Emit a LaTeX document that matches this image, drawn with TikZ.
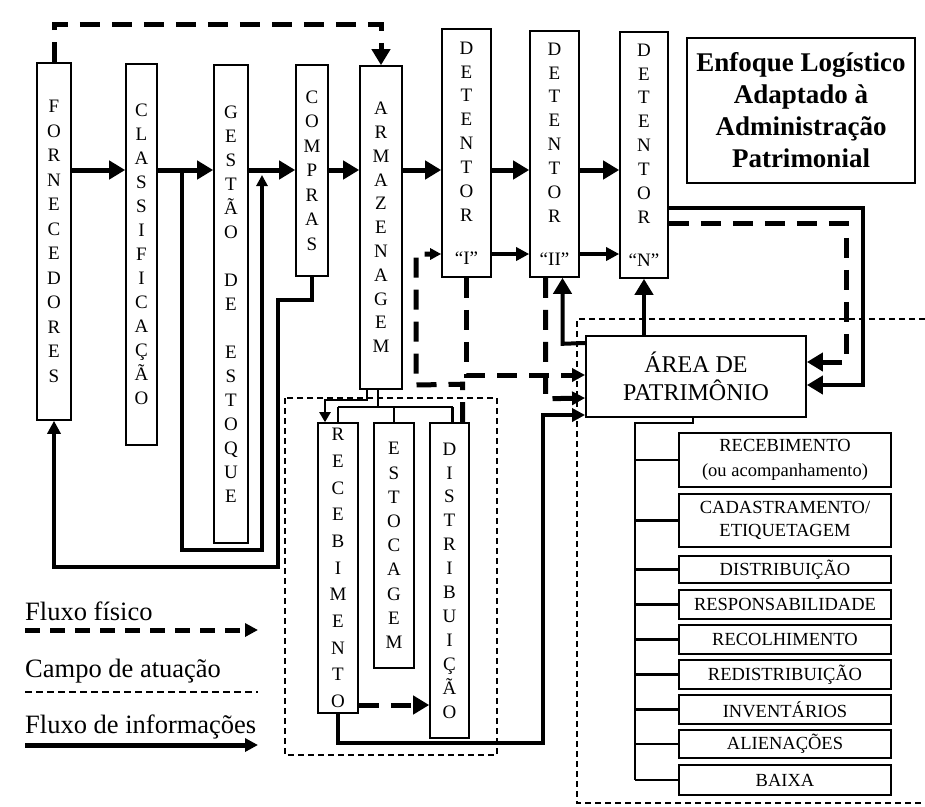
\documentclass[tikz,border=0pt]{standalone}
\usepackage{fontspec}
\setmainfont{Liberation Serif}
\usetikzlibrary{arrows.meta,calc}
\begin{document}
\begin{tikzpicture}[x=1pt,y=-1pt,
  vbox/.style={draw, line width=1.6pt, inner sep=0pt, align=center},
  vfont/.style={font=\fontsize{19}{#1}\selectfont},
  lbox/.style={draw, line width=1.8pt, inner sep=0pt, minimum width=212pt, align=center, font=\fontsize{18.5}{24}\selectfont},
  info/.style={line width=5pt},
  infoM/.style={line width=4pt},
  thinl/.style={line width=2.2pt},
  phys/.style={line width=5pt, dash pattern=on 20pt off 12pt},
  campo/.style={line width=2pt, dash pattern=on 6pt off 4pt},
  bigtip/.style={-{Triangle[length=16pt,width=18pt]}},
  medtip/.style={-{Triangle[length=13pt,width=13pt]}},
  smalltip/.style={-{Triangle[length=11pt,width=11pt]}},
  legtext/.style={anchor=base west, inner sep=0pt, font=\fontsize{26.5}{30}\selectfont},
]
\fill[white] (0,0) rectangle (925,806);
\useasboundingbox (0,0) rectangle (925,806);

% main column boxes
\node[vbox, vfont=24.5, minimum width=34pt, minimum height=357pt] (forn) at (54,241.5) {F\\O\\R\\N\\E\\C\\E\\D\\O\\R\\E\\S};
\node[vbox, vfont=24, minimum width=31pt, minimum height=381pt] (clas) at (141.5,254.5) {C\\L\\A\\S\\S\\I\\F\\I\\C\\A\\Ç\\Ã\\O};
\node[vbox, vfont=24, minimum width=34pt, minimum height=478pt] (gest) at (231,304) {G\\E\\S\\T\\Ã\\O\\[24pt]D\\E\\[24pt]E\\S\\T\\O\\Q\\U\\E};
\node[vbox, vfont=24.5, minimum width=32pt, minimum height=211pt] (comp) at (312,170.5) {C\\O\\M\\P\\R\\A\\S};
\node[vbox, vfont=23.8, minimum width=42pt, minimum height=323pt] (arm) at (381,227.5) {A\\R\\M\\A\\Z\\E\\N\\A\\G\\E\\M};
\node[vbox, vfont=23.9, minimum width=49pt, minimum height=248pt] (detI) at (466.5,153) {D\\E\\T\\E\\N\\T\\O\\R\\[19pt]“I”};
\node[vbox, vfont=23.9, minimum width=49pt, minimum height=246pt] (detII) at (554.5,154) {D\\E\\T\\E\\N\\T\\O\\R\\[19pt]“II”};
\node[vbox, vfont=23.9, minimum width=48pt, minimum height=246pt] (detN) at (644,155) {D\\E\\T\\E\\N\\T\\O\\R\\[19pt]“N”};

% title
\node[draw, line width=1.8pt, minimum width=228pt, minimum height=145pt, align=center, inner sep=0pt,
      font=\fontsize{27}{32}\selectfont\bfseries] (title) at (801,110.5) {Enfoque Logístico\\Adaptado à\\Administração\\Patrimonial};

% area de patrimonio
\node[draw, line width=1.8pt, minimum width=220pt, minimum height=81pt, align=center, inner sep=0pt,
      font=\fontsize{24}{28}\selectfont] (area) at (696,376.5) {ÁREA DE\\PATRIMÔNIO};

% storage sub-boxes
\node[vbox, vfont=26.7, minimum width=40pt, minimum height=290pt] (rec) at (338,568) {R\\E\\C\\E\\B\\I\\M\\E\\N\\T\\O};
\node[vbox, vfont=24.2, minimum width=40pt, minimum height=245pt] (est) at (394,545.5) {E\\S\\T\\O\\C\\A\\G\\E\\M};
\node[vbox, vfont=23.9, minimum width=39pt, minimum height=315pt] (dist) at (449.5,580.5) {D\\I\\S\\T\\R\\I\\B\\U\\I\\Ç\\Ã\\O};

% list of patrimonial activities
\node[lbox, minimum height=54pt, font=\fontsize{18.5}{25}\selectfont] (l1) at (785,460) {RECEBIMENTO\\(ou acompanhamento)};
\node[lbox, minimum height=53pt, font=\fontsize{18.5}{23}\selectfont] (l2) at (785,520.5) {CADASTRAMENTO/\\ETIQUETAGEM};
\node[lbox, minimum height=27pt] (l3) at (785,569.5) {DISTRIBUIÇÃO};
\node[lbox, minimum height=29pt] (l4) at (785,604.5) {RESPONSABILIDADE};
\node[lbox, minimum height=29pt] (l5) at (785,639.5) {RECOLHIMENTO};
\node[lbox, minimum height=29pt] (l6) at (785,674.5) {REDISTRIBUIÇÃO};
\node[lbox, minimum height=29pt] (l7) at (785,709.5) {INVENTÁRIOS};
\node[lbox, minimum height=28pt] (l8) at (785,744) {ALIENAÇÕES};
\node[lbox, minimum height=30pt] (l9) at (785,780) {BAIXA};

% helper coordinates
\coordinate (ytop) at (0,24);
\coordinate (r1) at (0,170);
\coordinate (r2) at (0,254);
\coordinate (y208) at (0,208);
\coordinate (y223) at (0,223);
\coordinate (y300) at (0,300);
\coordinate (y343) at (0,343);
\coordinate (y362) at (0,362);
\coordinate (y375) at (0,375);
\coordinate (y385) at (0,385);
\coordinate (y398) at (0,398);
\coordinate (y407) at (0,407);
\coordinate (y415) at (0,415);
\coordinate (y423) at (0,423);
\coordinate (y567) at (0,567);
\coordinate (y705) at (0,705);
\coordinate (y743) at (0,743);
\coordinate (cx1) at (863,0);
\coordinate (cx2) at (846,0);
\coordinate (cx3) at (543,0);
\coordinate (sp) at (635,0);

% top row information arrows
\draw[info,bigtip] (forn.east|-r1) -- (clas.west|-r1);
\draw[info,bigtip] (clas.east|-r1) -- (gest.west|-r1);
\draw[info,bigtip] (gest.east|-r1) -- (comp.west|-r1);
\draw[info,bigtip] (comp.east|-r1) -- (arm.west|-r1);
\draw[info,bigtip] (arm.east|-r1) -- (detI.west|-r1);
\draw[info,bigtip] (detI.east|-r1) -- (detII.west|-r1);
\draw[info,bigtip] (detII.east|-r1) -- (detN.west|-r1);
% second row
\draw[line width=3.5pt,medtip] (detI.east|-r2) -- (detII.west|-r2);
\draw[line width=3.5pt,medtip] (detII.east|-r2) -- (detN.west|-r2);

% left information loops
\coordinate (j1) at (182,170);
\coordinate (j2) at (182,550);
\coordinate (j3) at (262,550);
\coordinate (j4) at (262,175);
\draw[infoM,smalltip] (j1) -- (j2) -- (j3) -- (j4);
\coordinate (k1) at (278,300);
\coordinate (k2) at (278,567);
\draw[infoM,medtip] (comp.south) -- (comp.south|-y300) -- (k1) -- (k2) -- (forn.south|-y567) -- (forn.south);

% top physical flow
\draw[phys,bigtip] (forn.north) -- (forn.north|-ytop) -- (arm.north|-ytop) -- (arm.north);

% armazenagem tree
\coordinate (a1) at (367,400);
\coordinate (a2) at (325,400);
\draw[thinl,-{Triangle[length=10pt,width=11pt]}] ($(arm.south)+(-14,0)$) -- (a1) -- (a2) -- (a2|-rec.north);
\draw[thinl] ($(arm.south)+(-3,0)$) -- ($(arm.south)+(-3,18)$);
\draw[thinl] (rec.north|-y407) -- ($(dist.north|-y407)+(3,0)$);
\draw[thinl] (rec.north|-y407) -- (rec.north);
\draw[thinl] (est.north|-y407) -- (est.north);
\draw[thinl] ($(dist.north|-y407)+(3,0)$) -- ($(dist.north)+(3,0)$);

% distribution -> detentor I (physical)
\coordinate (v1) at (416,385);
\draw[phys,smalltip] ($(dist.north)+(13,0)$) -- ($(dist.north)+(13,-38)$) -- (v1) -- (v1|-r2) -- (detI.west|-r2);

% detentores -> area (physical)
\draw[phys,medtip] (detI.south) -- (detI.south|-y375) -- (area.west|-y375);
\draw[phys,medtip] ($(detII.south)+(-9,0)$) -- ($(detII.south)+(-9,121)$) -- (area.west|-y398);

% area -> detentores (information)
\draw[infoM,bigtip] (area.west|-y343) -- ($(detII.south)+(8,66)$) -- ($(detII.south)+(8,0)$);
\draw[infoM,bigtip] (area.north-|detN.south) -- (detN.south);

% detentor N -> area
\draw[infoM,bigtip] (detN.east|-y208) -- (cx1|-y208) -- (cx1|-y385) -- (area.east|-y385);
\draw[phys,bigtip] (detN.east|-y223) -- (cx2|-y223) -- (cx2|-y362) -- (area.east|-y362);

% recebimento -> area (information), recebimento -> distribuicao (physical)
\draw[infoM,medtip] (rec.south) -- (rec.south|-y743) -- (cx3|-y743) -- (cx3|-y415) -- (area.west|-y415);
\draw[phys,bigtip] (rec.east|-y705) -- (dist.west|-y705);

% area -> list
\coordinate (s0) at (693,423);
\draw[thinl] (area.south-|s0) -- (s0) -- (sp|-y423) -- (sp|-l9.west);
\foreach \n in {l1,l2,l3,l4,l5,l6,l7,l8,l9}{
  \draw[thinl] (sp|-\n.west) -- (\n.west);
}

% fields of action
\draw[campo] (285,398) rectangle (497,755);
\draw[campo] (925,319) -- (577,319) -- (577,803) -- (925,803);

% legend
\node[legtext] (lg1) at (25,620) {Fluxo físico};
\node[legtext] (lg2) at (25,677) {Campo de atuação};
\node[legtext] (lg3) at (25,733) {Fluxo de informações};
\coordinate (la) at (25,630);
\coordinate (lb) at (258,630);
\coordinate (lc) at (25,692);
\coordinate (ld) at (258,692);
\coordinate (le) at (25,745);
\coordinate (lf) at (258,745);
\draw[line width=5pt, dash pattern=on 15pt off 10pt, medtip] (la) -- (lb);
\draw[line width=2.8pt, dash pattern=on 7pt off 4pt] (lc) -- (ld);
\draw[info, medtip] (le) -- (lf);
\end{tikzpicture}
\end{document}
